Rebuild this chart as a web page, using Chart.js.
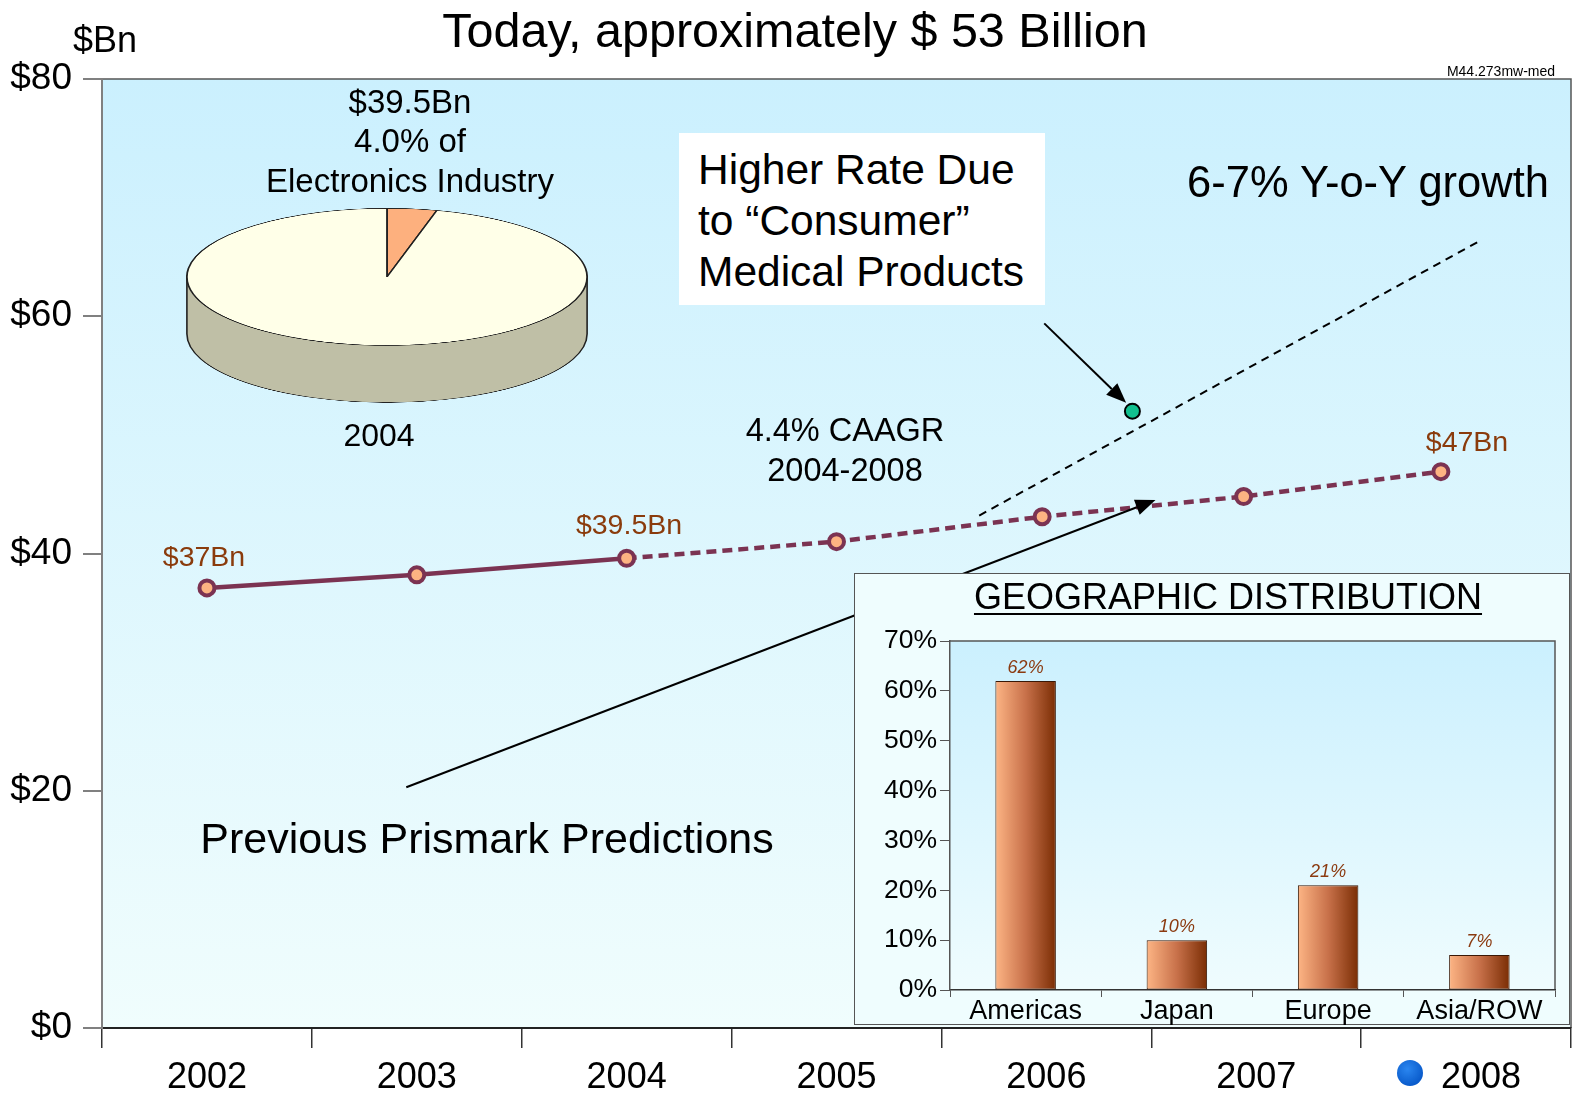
<!DOCTYPE html>
<html>
<head>
<meta charset="utf-8">
<script src="https://cdn.jsdelivr.net/npm/chart.js@4.4.1/dist/chart.umd.min.js"></script>
<style>
  body { margin: 0; background: #fff; font-family: "Liberation Sans", Arial, sans-serif; }
  #page { position: relative; width: 1572px; height: 1096px; overflow: hidden; }
  .t { position: absolute; white-space: nowrap; line-height: 1; color: #000; transform: translate(-50%, -50%); }
  .brown { color: #8a3b0c; font-size: 28.5px; }
  #mainChart { position: absolute; left: 0; top: 0; }
  #pieChart { position: absolute; left: 186px; top: 208px; transform: scaleY(0.3427); transform-origin: 0 0; }
  #noteBox { position: absolute; left: 679px; top: 133px; width: 366px; height: 172px; background: #fff; }
  #noteBox div { position: absolute; left: 19px; font-size: 42.5px; white-space: nowrap; line-height: 1; }
  #geoBox { position: absolute; left: 854px; top: 573px; width: 716px; height: 452px;
            background: #effdfe; border: 1.5px solid #555; box-sizing: border-box; }
  #geoChart { position: absolute; left: 855px; top: 574px; }
  #geoTitle { text-decoration: underline; text-decoration-thickness: 2px; text-underline-offset: 4px; }
  #dot { position: absolute; left: 1397px; top: 1060px; width: 26px; height: 26px; border-radius: 50%;
         background: radial-gradient(circle at 40% 35%, #2a86f0, #0a5ccc 70%); }
</style>
</head>
<body>
<div id="page">
  <canvas id="mainChart" width="1572" height="1096"></canvas>

  <div class="t" style="left:795px; top:30px; font-size:48.5px;">Today, approximately $ 53 Billion</div>
  <div class="t" style="left:105px; top:40px; font-size:36px;">$Bn</div>
  <div class="t" style="left:1501px; top:71px; font-size:14px;">M44.273mw-med</div>

  <div class="t" style="left:410px; top:101px; font-size:33px;">$39.5Bn</div>
  <div class="t" style="left:410px; top:140px; font-size:33px;">4.0% of</div>
  <div class="t" style="left:410px; top:180px; font-size:33px;">Electronics Industry</div>
  <canvas id="pieChart" width="402" height="572"></canvas>
  <div class="t" style="left:379px; top:435px; font-size:32px;">2004</div>

  <div class="t" style="left:845px; top:430px; font-size:32.5px;">4.4% CAAGR</div>
  <div class="t" style="left:845px; top:470px; font-size:32.5px;">2004-2008</div>

  <div id="noteBox">
    <div style="top:16px;">Higher Rate Due</div>
    <div style="top:67px;">to “Consumer”</div>
    <div style="top:118px;">Medical Products</div>
  </div>
  <div class="t" style="left:1368px; top:183px; font-size:43.5px;">6-7% Y-o-Y growth</div>
  <div class="t" style="left:487px; top:838px; font-size:43px;">Previous Prismark Predictions</div>

  <div class="t brown" style="left:204px; top:556px;">$37Bn</div>
  <div class="t brown" style="left:629px; top:524px;">$39.5Bn</div>
  <div class="t brown" style="left:1467px; top:441px;">$47Bn</div>

  <div id="geoBox"></div>
  <canvas id="geoChart" width="716" height="452"></canvas>
  <div class="t" id="geoTitle" style="left:1228px; top:597px; font-size:36px;">GEOGRAPHIC DISTRIBUTION</div>

  <div id="dot"></div>
</div>

<script>
// =============================
// DATOS
// =============================
const years = ["2002", "2003", "2004", "2005", "2006", "2007", "2008"];
const yearPos = [2002.0, 2003.0, 2004.0, 2005.0, 2005.98, 2006.94, 2007.88];
const revenue = [37.1, 38.2, 39.6, 41.0, 43.1, 44.8, 46.9];

// linea de 6-7% y punto "consumer"
const trendX = [2005.68, 2008.06];
const trendY = [43.2, 66.3];
const consumerX = [2006.41];
const consumerY = [52.0];

// flechas (inicio -> fin, en valores de los ejes)
const arrowFrom = [[2005.99, 59.4], [2002.95, 20.3]];
const arrowTo = [[2006.38, 52.7], [2006.52, 44.5]];

const yTicks = [0, 20, 40, 60, 80];

const pieLabels = ["Medical", "Rest of electronics"];
const pieValues = [4.0, 96.0];

const regions = ["Americas", "Japan", "Europe", "Asia/ROW"];
const regionShare = [62, 10, 21, 7];

const FONT = "'Liberation Sans', Arial, sans-serif";
Chart.defaults.font.family = FONT;
Chart.defaults.color = "#000";
Chart.defaults.animation = false;

// =============================
// PLUGINS
// =============================
const plotBackground = {
  id: "plotBackground",
  beforeDraw(chart, args, opts) {
    const { ctx, chartArea: a } = chart;
    const g = ctx.createLinearGradient(0, a.top, 0, a.bottom);
    g.addColorStop(0, opts.top);
    g.addColorStop(1, opts.bottom);
    ctx.save();
    ctx.fillStyle = g;
    ctx.fillRect(a.left, a.top, a.right - a.left, a.bottom - a.top);
    ctx.strokeStyle = opts.border;
    ctx.lineWidth = 1.5;
    ctx.beginPath();
    ctx.moveTo(a.left, a.top);
    ctx.lineTo(a.right, a.top);
    ctx.lineTo(a.right, a.bottom);
    ctx.stroke();
    ctx.restore();
  }
};

const arrows = {
  id: "arrows",
  afterDatasetsDraw(chart) {
    const { ctx } = chart;
    const xs = chart.scales.xl, ys = chart.scales.y;
    ctx.save();
    ctx.strokeStyle = "#000";
    ctx.fillStyle = "#000";
    ctx.lineWidth = 2;
    arrowFrom.forEach((f, i) => {
      const x1 = xs.getPixelForValue(f[0]), y1 = ys.getPixelForValue(f[1]);
      const x2 = xs.getPixelForValue(arrowTo[i][0]), y2 = ys.getPixelForValue(arrowTo[i][1]);
      const ang = Math.atan2(y2 - y1, x2 - x1);
      const len = 20, w = 8;
      const bx = x2 - len * Math.cos(ang), by = y2 - len * Math.sin(ang);
      ctx.beginPath();
      ctx.moveTo(x1, y1);
      ctx.lineTo(bx, by);
      ctx.stroke();
      ctx.beginPath();
      ctx.moveTo(x2, y2);
      ctx.lineTo(bx + w * Math.sin(ang), by - w * Math.cos(ang));
      ctx.lineTo(bx - w * Math.sin(ang), by + w * Math.cos(ang));
      ctx.closePath();
      ctx.fill();
    });
    ctx.restore();
  }
};

// =============================
// GRAFICO PRINCIPAL
// =============================
new Chart(document.getElementById("mainChart"), {
  type: "line",
  data: {
    labels: years,
    datasets: [
      {
        label: "6-7% growth",
        data: trendX.map((x, i) => ({ x, y: trendY[i] })),
        xAxisID: "xl",
        borderColor: "#000",
        borderWidth: 2,
        borderDash: [8, 6],
        pointRadius: 0
      },
      {
        label: "Previous Prismark Predictions",
        data: yearPos.map((x, i) => ({ x, y: revenue[i] })),
        xAxisID: "xl",
        borderColor: "#7b3352",
        borderWidth: 4.5,
        segment: {
          borderDash: c => (c.p0DataIndex >= 2 ? [10, 6] : undefined)
        },
        pointRadius: 7.5,
        pointBorderWidth: 4,
        pointBackgroundColor: "#fdb382",
        pointBorderColor: "#7b3352"
      },
      {
        label: "Consumer medical",
        data: consumerX.map((x, i) => ({ x, y: consumerY[i] })),
        xAxisID: "xl",
        showLine: false,
        pointRadius: 7.5,
        pointBorderWidth: 2,
        pointBackgroundColor: "#12c08f",
        pointBorderColor: "#000"
      }
    ]
  },
  options: {
    responsive: false,
    events: [],
    layout: { autoPadding: false, padding: { top: 79, right: 1, left: 0, bottom: 0 } },
    plugins: {
      legend: { display: false },
      tooltip: { enabled: false },
      plotBackground: { top: "#cbf0fe", bottom: "#f0fdfd", border: "#555" }
    },
    scales: {
      x: {
        type: "category",
        labels: years,
        offset: true,
        afterFit: s => { s.height = 68; },
        grid: { offset: true, drawOnChartArea: false, tickLength: 20, color: "#333", lineWidth: 1.5 },
        border: { color: "#222", width: 2 },
        ticks: {
          font: { size: 36 },
          color: "#000",
          padding: 8,
          maxRotation: 0,
          // el 2008 va corrido a la derecha (tiene el punto azul adelante)
          callback: (v, i) => (i === years.length - 1 ? "   " + years[i] : years[i])
        }
      },
      xl: {
        type: "linear",
        min: 2001.5,
        max: 2008.5,
        display: false
      },
      y: {
        min: 0,
        max: 80,
        afterFit: s => { s.width = 102; },
        afterBuildTicks: s => { s.ticks = yTicks.map(v => ({ value: v })); },
        grid: { drawOnChartArea: false, tickLength: 19, color: "#808080", lineWidth: 2 },
        border: { color: "#808080", width: 2 },
        ticks: { font: { size: 37 }, color: "#000", padding: 11, callback: v => "$" + v }
      }
    }
  },
  plugins: [plotBackground, arrows]
});

// =============================
// TORTA 3D (2004)
// =============================
const pieSide = {
  id: "pieSide",
  beforeDatasetsDraw(chart) {
    const arc = chart.getDatasetMeta(0).data[0];
    if (!arc) return;
    const { x, y, outerRadius: r } = arc;
    const d = 57 / 0.3427;
    const { ctx } = chart;
    ctx.save();
    ctx.beginPath();
    ctx.moveTo(x + r, y);
    ctx.lineTo(x + r, y + d);
    ctx.arc(x, y + d, r, 0, Math.PI);
    ctx.lineTo(x - r, y);
    ctx.closePath();
    ctx.fillStyle = "#bfbfa6";
    ctx.fill();
    ctx.strokeStyle = "#222";
    ctx.lineWidth = 1.6;
    ctx.stroke();
    ctx.restore();
  }
};

new Chart(document.getElementById("pieChart"), {
  type: "pie",
  data: {
    labels: pieLabels,
    datasets: [{
      data: pieValues,
      backgroundColor: ["#fdb07e", "#ffffe8"],
      borderColor: "#222",
      borderWidth: 1.8
    }]
  },
  options: {
    responsive: false,
    events: [],
    layout: { autoPadding: false, padding: { bottom: 170 } },
    plugins: { legend: { display: false }, tooltip: { enabled: false } }
  },
  plugins: [pieSide]
});

// =============================
// DISTRIBUCION GEOGRAFICA
// =============================
const barLabels = {
  id: "barLabels",
  afterDatasetsDraw(chart) {
    const { ctx } = chart;
    const meta = chart.getDatasetMeta(0);
    ctx.save();
    ctx.font = "italic 18px " + FONT;
    ctx.fillStyle = "#8b3a10";
    ctx.textAlign = "center";
    ctx.textBaseline = "middle";
    meta.data.forEach((bar, i) => {
      ctx.fillText(regionShare[i] + "%", bar.x, bar.y - 13);
    });
    ctx.restore();
  }
};

new Chart(document.getElementById("geoChart"), {
  type: "bar",
  data: {
    labels: regions,
    datasets: [{
      data: regionShare,
      backgroundColor: c => {
        const chart = c.chart;
        if (!chart.chartArea || !chart.scales.x) return "#c87040";
        const xs = chart.scales.x;
        const cx = xs.getPixelForValue(c.dataIndex);
        const half = (xs.width / regions.length) * 0.4 / 2;
        const g = chart.ctx.createLinearGradient(cx - half, 0, cx + half, 0);
        g.addColorStop(0, "#fdb585");
        g.addColorStop(0.5, "#c8714a");
        g.addColorStop(1, "#7a2d04");
        return g;
      },
      borderColor: "#3a1806",
      borderWidth: 1,
      borderSkipped: false,
      categoryPercentage: 1,
      barPercentage: 0.4
    }]
  },
  options: {
    responsive: false,
    events: [],
    layout: { autoPadding: false, padding: { top: 67, right: 16 } },
    plugins: {
      legend: { display: false },
      tooltip: { enabled: false },
      plotBackground: { top: "#cbf0fe", bottom: "#effcfe", border: "#555" }
    },
    scales: {
      x: {
        afterFit: s => { s.height = 36; },
        grid: { offset: true, drawOnChartArea: false, tickLength: 7, color: "#555" },
        border: { color: "#333", width: 1.5 },
        ticks: { font: { size: 27 }, color: "#000", padding: -2, maxRotation: 0 }
      },
      y: {
        min: 0,
        max: 70,
        afterFit: s => { s.width = 95; },
        grid: { drawOnChartArea: false, tickLength: 10, color: "#555" },
        border: { color: "#555", width: 1.5 },
        ticks: { stepSize: 10, font: { size: 26.5 }, color: "#000", padding: 3, callback: v => v + "%" }
      }
    }
  },
  plugins: [plotBackground, barLabels]
});
</script>
</body>
</html>
